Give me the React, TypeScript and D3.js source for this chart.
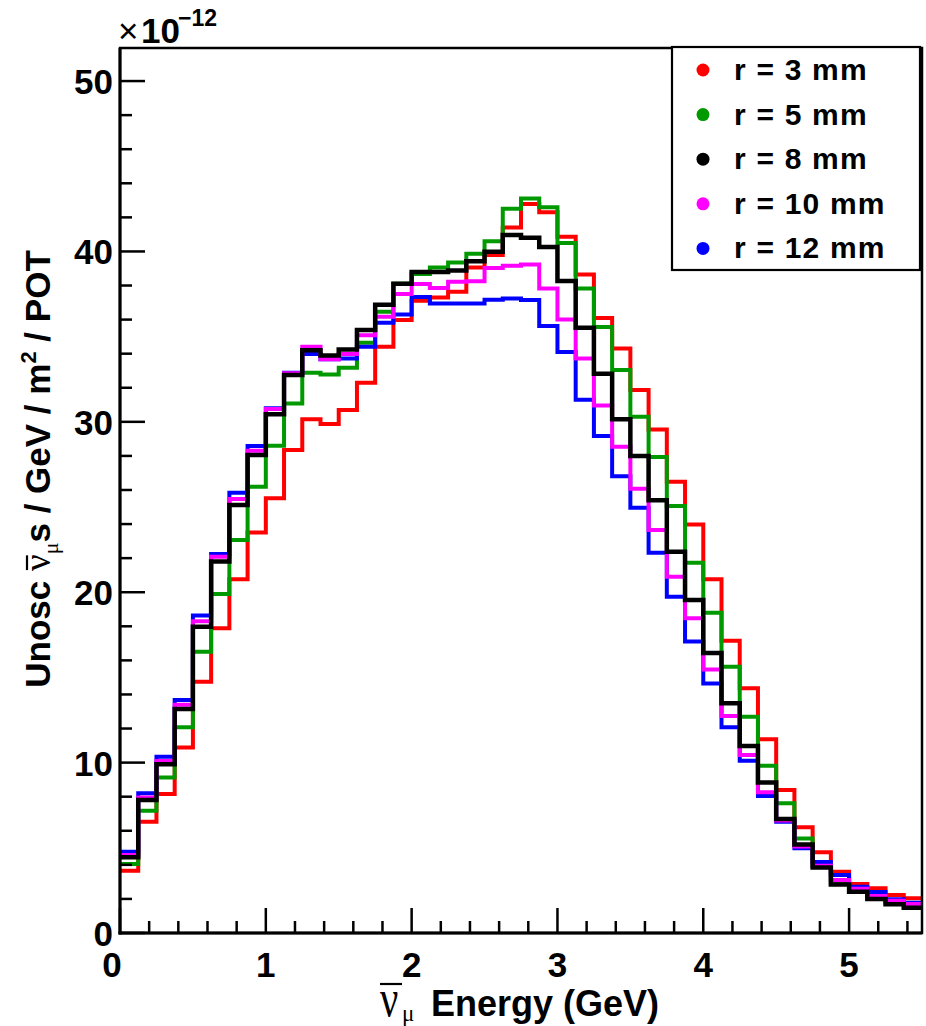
import React from 'react';
import * as d3 from 'd3';

const W = 926;
const H = 1026;

// Energy binning (GeV): 44 bins of 0.125 GeV from 0 to 5.5
const binWidth = 0.125;
const energyBinLow = d3.range(44).map((i) => i * binWidth);

// Unoscillated anti-numu flux (x 1e-12) per bin
const r3mm = [3.66, 6.53, 8.16, 10.88, 14.75, 17.88, 20.76, 23.51, 25.51, 28.35, 30.15, 29.87, 30.7, 32.3, 34.41, 35.97, 37.1, 37.3, 37.63, 39.06, 39.79, 41.4, 42.78, 42.3, 40.86, 38.65, 36.1, 34.31, 31.87, 29.55, 26.49, 23.98, 20.76, 17.15, 14.36, 11.37, 8.39, 6.2, 4.74, 3.6, 2.87, 2.62, 2.23, 2.04];
const r5mm = [4.05, 7.18, 9.12, 12.07, 16.5, 19.9, 23.06, 26.19, 28.6, 31.08, 32.88, 32.78, 33.17, 34.64, 36.46, 38.1, 38.67, 39.06, 39.35, 39.86, 40.6, 42.5, 43.1, 42.6, 40.5, 37.83, 35.56, 33.04, 30.3, 27.93, 25.06, 21.73, 18.8, 15.63, 12.69, 9.82, 7.61, 5.54, 3.95, 2.95, 2.45, 2.1, 1.8, 1.6];
const r8mm = [4.44, 7.8, 9.9, 13.15, 17.98, 21.8, 25.12, 28.05, 30.44, 32.75, 34.2, 33.9, 34.25, 35.39, 36.87, 38.1, 38.8, 38.8, 38.88, 39.42, 39.98, 40.96, 40.8, 40.26, 38.26, 35.52, 32.82, 30.15, 28.0, 25.4, 22.38, 19.54, 16.43, 13.48, 10.97, 8.84, 6.69, 5.2, 3.85, 2.85, 2.42, 2.0, 1.69, 1.48];
const r10mm = [4.58, 7.95, 10.1, 13.4, 18.3, 22.08, 25.47, 28.3, 30.75, 32.85, 34.4, 33.67, 33.98, 35.08, 36.17, 37.5, 38.09, 37.85, 38.22, 38.25, 39.03, 39.16, 39.24, 37.83, 36.0, 33.72, 30.96, 28.54, 26.08, 23.65, 20.91, 18.47, 15.47, 12.73, 10.45, 8.26, 6.6, 5.07, 3.95, 3.11, 2.6, 2.17, 1.9, 1.7];
const r12mm = [4.77, 8.2, 10.35, 13.67, 18.63, 22.24, 25.84, 28.58, 30.79, 32.88, 33.98, 33.67, 33.72, 34.41, 35.82, 36.3, 37.32, 36.95, 36.95, 36.95, 37.16, 37.24, 37.15, 35.62, 34.1, 31.3, 29.17, 26.8, 24.96, 22.32, 19.74, 17.11, 14.65, 12.07, 10.11, 8.04, 6.53, 4.97, 4.16, 3.4, 2.72, 2.4, 1.98, 1.78];

const legendLabels = ['r = 3 mm', 'r = 5 mm', 'r = 8 mm', 'r = 10 mm', 'r = 12 mm'];
const legendColors = ['#ff0000', '#009900', '#000000', '#ff00ff', '#0000ff'];
const seriesValues = [r3mm, r5mm, r8mm, r10mm, r12mm];
// drawing order (index into the above)
const drawOrder = [0, 1, 4, 3, 2];

const xTickValues = [0, 1, 2, 3, 4, 5];
const xTickLabels = ['0', '1', '2', '3', '4', '5'];
const yTickValues = [0, 10, 20, 30, 40, 50];
const yTickLabels = ['0', '10', '20', '30', '40', '50'];

const FONT = '"Liberation Sans", Arial, Helvetica, sans-serif';
const SERIF = '"Liberation Serif", "DejaVu Serif", serif';

// y-title pieces: [text, fontSize, bold, serif, dy]
const yTitlePieces: [string, number, boolean, boolean, number][] = [
  ['Unosc ', 35, true, false, 0],
  ['ν', 37, false, true, 0],
  ['μ', 22, false, true, 8],
  ['s / GeV / m', 35, true, false, 0],
  ['2', 22, true, false, -14],
  [' / POT', 35, true, false, 0],
];

function measure(text: string, size: number, bold: boolean, serif: boolean): number {
  try {
    const c = document.createElement('canvas');
    const ctx = c.getContext('2d');
    if (!ctx) throw new Error('no ctx');
    ctx.font = `${bold ? 'bold ' : ''}${size}px ${serif ? SERIF : FONT}`;
    return ctx.measureText(text).width;
  } catch (e) {
    return text.length * size * 0.55;
  }
}

export default function App() {
  const x = d3.scaleLinear().domain([0, 5.5]).range([120, 922]);
  const y = d3.scaleLinear().domain([0, 51.94]).range([933, 48]);

  const line = d3
    .line<[number, number]>()
    .x((d) => x(d[0]))
    .y((d) => y(d[1]));

  const stepPoints = (vals: number[]): [number, number][] =>
    vals.flatMap((v, i) => [
      [energyBinLow[i], v] as [number, number],
      [energyBinLow[i] + binWidth, v] as [number, number],
    ]);

  const xMinor = d3.range(0.2, 5.5, 0.2).filter((v) => Math.abs(v - Math.round(v)) > 1e-6);
  const yMinor = d3.range(2, 51.94, 2).filter((v) => v % 10 !== 0);

  const [x0, x1] = x.range();
  const [yb, yt] = y.range();

  // y title layout (rotated coordinates, centred at 0)
  const widths = yTitlePieces.map(([t, s, b, sf]) => measure(t, s, b, sf));
  const total = widths.reduce((a, b) => a + b, 0);
  const starts: number[] = [];
  let acc = -total / 2;
  widths.forEach((w) => {
    starts.push(acc);
    acc += w;
  });

  return (
    <svg
      width={W}
      height={H}
      style={{ position: 'absolute', left: 0, top: 0, background: '#fff' }}
      fontFamily={FONT}
    >
      <rect x={0} y={0} width={W} height={H} fill="#fff" />

      {/* histograms */}
      {drawOrder.map((si) => (
        <path
          key={si}
          d={line(stepPoints(seriesValues[si])) || ''}
          fill="none"
          stroke={legendColors[si]}
          strokeWidth={si === 2 ? 4.5 : 4}
          strokeLinejoin="miter"
        />
      ))}

      {/* frame */}
      <rect x={x0} y={yt} width={x1 - x0} height={yb - yt} fill="none" stroke="#000" strokeWidth={2.5} />
      <line x1={x0} x2={x0} y1={yt} y2={yb + 1.5} stroke="#000" strokeWidth={3} />
      <line x1={x0 - 1.5} x2={x1} y1={yb} y2={yb} stroke="#000" strokeWidth={3} />

      {/* x ticks */}
      {xTickValues.map((v) => (
        <line key={'xt' + v} x1={x(v)} x2={x(v)} y1={yb} y2={yb - 25} stroke="#000" strokeWidth={2.5} />
      ))}
      {xMinor.map((v) => (
        <line key={'xm' + v} x1={x(v)} x2={x(v)} y1={yb} y2={yb - 12} stroke="#000" strokeWidth={2.5} />
      ))}
      {xTickValues.map((v, i) => (
        <text
          key={'xl' + v}
          x={i === 0 ? x(v) - 8 : x(v)}
          y={977}
          fontSize={35}
          fontWeight="bold"
          textAnchor="middle"
        >
          {xTickLabels[i]}
        </text>
      ))}

      {/* y ticks */}
      {yTickValues.map((v) => (
        <line key={'yt' + v} x1={x0} x2={x0 + 25} y1={y(v)} y2={y(v)} stroke="#000" strokeWidth={2.5} />
      ))}
      {yMinor.map((v) => (
        <line key={'ym' + v} x1={x0} x2={x0 + 12} y1={y(v)} y2={y(v)} stroke="#000" strokeWidth={2.5} />
      ))}
      {yTickValues.map((v, i) => (
        <text key={'yl' + v} x={113} y={y(v) + 13} fontSize={35} fontWeight="bold" textAnchor="end">
          {yTickLabels[i]}
        </text>
      ))}

      {/* exponent */}
      <text x={118} y={43} fontSize={35} fontWeight="normal">
        ×
      </text>
      <text x={141} y={43} fontSize={35} fontWeight="bold">
        10
      </text>
      <text x={178} y={26} fontSize={23} fontWeight="bold">
        −12
      </text>

      {/* x title */}
      <g>
        <text
          transform="translate(380,1016) scale(0.78,1)"
          fontFamily={SERIF}
          fontSize={52}
          fontWeight="normal"
        >
          ν
        </text>
        <line x1={380} x2={402} y1={984} y2={984} stroke="#000" strokeWidth={2.2} />
        <text x={402} y={1021} fontFamily={SERIF} fontSize={23} fontWeight="normal">
          μ
        </text>
        <text x={431} y={1016} fontSize={36} fontWeight="bold">
          Energy (GeV)
        </text>
      </g>

      {/* y title */}
      <g transform="translate(50,469) rotate(-90)">
        {yTitlePieces.map(([t, s, b, sf, dy], i) => (
          <text
            key={'yp' + i}
            x={starts[i]}
            y={dy}
            fontSize={s}
            fontWeight={b ? 'bold' : 'normal'}
            fontFamily={sf ? SERIF : FONT}
            style={{ whiteSpace: 'pre' }}
          >
            {t}
          </text>
        ))}
        <line
          x1={starts[1] + 1}
          x2={starts[1] + widths[1] - 1}
          y1={-23}
          y2={-23}
          stroke="#000"
          strokeWidth={2.2}
        />
      </g>

      {/* legend */}
      <rect x={672} y={47} width={248} height={223} fill="#fff" stroke="#000" strokeWidth={2.2} />
      {legendLabels.map((lab, i) => {
        const cy = 70 + i * 44.6;
        return (
          <g key={lab}>
            <circle cx={703} cy={cy} r={6.5} fill={legendColors[i]} />
            <text x={734} y={cy + 10} fontSize={30} fontWeight="bold" letterSpacing={1.2}>
              {lab}
            </text>
          </g>
        );
      })}
    </svg>
  );
}
